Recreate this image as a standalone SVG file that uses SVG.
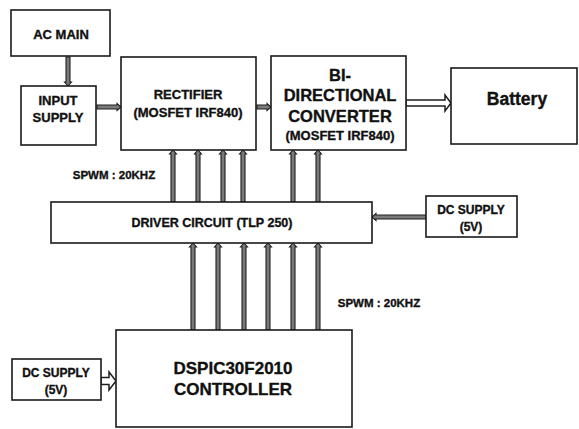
<svg xmlns="http://www.w3.org/2000/svg" width="579" height="429" viewBox="0 0 579 429">
<style>
.box{fill:#fff;stroke:#1a1a1a;stroke-width:1.6}
.t{font-family:"Liberation Sans",Arial,sans-serif;font-weight:bold;fill:#111;stroke:#111;stroke-width:0.35;text-anchor:middle}
.arr{fill:#7a7a7a;stroke:#1e1e1e;stroke-width:1.1;stroke-linejoin:miter}
.hol{fill:#fff;stroke:#1e1e1e;stroke-width:1.5;stroke-linejoin:miter}
</style>
<rect width="579" height="429" fill="#fff"/>
<g id="connectors">
<polygon class="arr" points="66,57 66,82 64.5,82 68,86 71.5,82 70,82 70,57"/>
<polygon class="arr" points="97,105 117,105 117,103.5 121,107 117,110.5 117,109 97,109"/>
<polygon class="arr" points="257,105 267,105 267,103.5 271,107 267,110.5 267,109 257,109"/>
<polygon class="hol" points="406,100 445,100 445,95 451,103 445,111 445,106 406,106"/>
<polygon class="arr" points="171,202 171,154 169.5,154 173,150 176.5,154 175,154 175,202"/>
<polygon class="arr" points="196,202 196,154 194.5,154 198,150 201.5,154 200,154 200,202"/>
<polygon class="arr" points="221,202 221,154 219.5,154 223,150 226.5,154 225,154 225,202"/>
<polygon class="arr" points="241,202 241,154 239.5,154 243,150 246.5,154 245,154 245,202"/>
<polygon class="arr" points="291,202 291,154 289.5,154 293,150 296.5,154 295,154 295,202"/>
<polygon class="arr" points="316,202 316,154 314.5,154 318,150 321.5,154 320,154 320,202"/>
<polygon class="arr" points="191,330 191,247 189.5,247 193,243 196.5,247 195,247 195,330"/>
<polygon class="arr" points="216,330 216,247 214.5,247 218,243 221.5,247 220,247 220,330"/>
<polygon class="arr" points="242,330 242,247 240.5,247 244,243 247.5,247 246,247 246,330"/>
<polygon class="arr" points="266,330 266,247 264.5,247 268,243 271.5,247 270,247 270,330"/>
<polygon class="arr" points="291,330 291,247 289.5,247 293,243 296.5,247 295,247 295,330"/>
<polygon class="arr" points="316,330 316,247 314.5,247 318,243 321.5,247 320,247 320,330"/>
<polygon class="arr" points="426,215 376,215 376,213.5 372,217 376,220.5 376,219 426,219"/>
<polygon class="hol" points="101,377.5 109,377.5 109,372 116,381 109,390 109,384.5 101,384.5"/>
</g>
<g id="ac-main">
<rect class="box" x="11" y="10" width="99" height="46"/>
<text class="t" x="61" y="38.5" font-size="13">AC MAIN</text>
</g>
<g id="input-supply">
<rect class="box" x="21" y="86" width="75" height="59"/>
<text class="t" x="58" y="104.5" font-size="13">INPUT</text>
<text class="t" x="58" y="121.5" font-size="13">SUPPLY</text>
</g>
<g id="rectifier">
<rect class="box" x="121" y="57" width="135" height="93"/>
<text class="t" x="188" y="99" font-size="13">RECTIFIER</text>
<text class="t" x="188" y="117" font-size="13">(MOSFET IRF840)</text>
</g>
<g id="bidirectional-converter">
<rect class="box" x="271" y="56" width="135" height="94"/>
<text class="t" x="340" y="81" font-size="16.5">BI-</text>
<text class="t" x="340" y="101" font-size="16.5">DIRECTIONAL</text>
<text class="t" x="340" y="122" font-size="16.5">CONVERTER</text>
<text class="t" x="340" y="139.5" font-size="13">(MOSFET IRF840)</text>
</g>
<g id="battery">
<rect class="box" x="451" y="68" width="126" height="76"/>
<text class="t" x="517" y="105" font-size="17.5">Battery</text>
</g>
<g id="spwm-label-1">
<text class="t" x="114" y="179" font-size="11.5">SPWM : 20KHZ</text>
</g>
<g id="driver-circuit">
<rect class="box" x="51" y="202" width="321" height="41"/>
<text class="t" x="212" y="226.5" font-size="12.5">DRIVER CIRCUIT (TLP 250)</text>
</g>
<g id="dc-supply-right">
<rect class="box" x="426" y="196" width="91" height="41"/>
<text class="t" x="471" y="213.5" font-size="12">DC SUPPLY</text>
<text class="t" x="471" y="230.5" font-size="12">(5V)</text>
</g>
<g id="spwm-label-2">
<text class="t" x="379" y="307" font-size="11.5">SPWM : 20KHZ</text>
</g>
<g id="controller">
<rect class="box" x="116" y="330" width="236" height="97"/>
<text class="t" x="233" y="374" font-size="17">DSPIC30F2010</text>
<text class="t" x="233" y="395" font-size="17">CONTROLLER</text>
</g>
<g id="dc-supply-left">
<rect class="box" x="12" y="359" width="89" height="41"/>
<text class="t" x="56" y="376.5" font-size="12">DC SUPPLY</text>
<text class="t" x="56" y="393.5" font-size="12">(5V)</text>
</g>
</svg>
